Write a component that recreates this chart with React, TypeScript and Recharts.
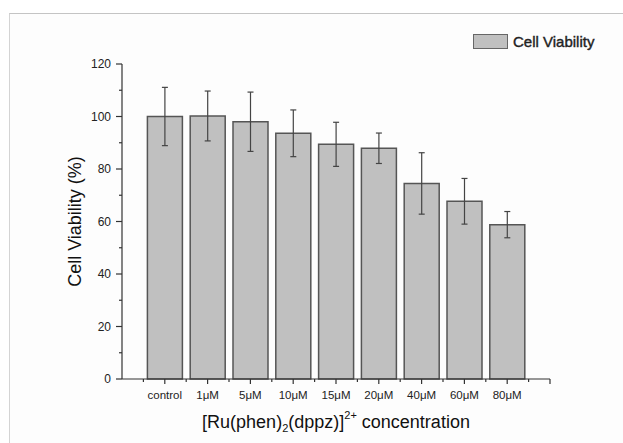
import React from 'react';
import { BarChart, Bar, XAxis, YAxis, ErrorBar, Legend } from 'recharts';

// values
const concentrations = ['control', '1μM', '5μM', '10μM', '15μM', '20μM', '40μM', '60μM', '80μM'];
const viability = [100, 100.2, 98, 93.6, 89.4, 87.9, 74.5, 67.7, 58.8];
const viabilitySd = [11.1, 9.5, 11.3, 8.9, 8.4, 5.8, 11.7, 8.7, 5];
const yTicks = [0, 10, 20, 30, 40, 50, 60, 70, 80, 90, 100, 110, 120];

const data = concentrations.map((c, i) => ({ name: c, viability: viability[i], sd: viabilitySd[i] }));

const W = 623;
const H = 443;
const PLOT_LEFT = 122;
const PLOT_RIGHT = 550;
const PLOT_TOP = 64;
const PLOT_BOTTOM = 379;
const BAND = (PLOT_RIGHT - PLOT_LEFT) / (concentrations.length + 1);
const FONT = '"Liberation Sans", Arial, sans-serif';
const AXIS = '#333';

const XTick = (props: any) => {
    const { x, y, payload, index } = props;
    const last = index === concentrations.length - 1;
    return (
        <g>
            <line x1={x} y1={y} x2={x} y2={y + 5} stroke={AXIS} strokeWidth={1.2} />
            <line x1={x - BAND / 2} y1={y} x2={x - BAND / 2} y2={y + 3} stroke={AXIS} strokeWidth={1.2} />
            {last && (
                <>
                    <line x1={x + BAND / 2} y1={y} x2={x + BAND / 2} y2={y + 3} stroke={AXIS} strokeWidth={1.2} />
                    <line x1={x + BAND} y1={y} x2={x + BAND} y2={y + 5} stroke={AXIS} strokeWidth={1.2} />
                </>
            )}
            <text x={x} y={y + 20} textAnchor="middle" fontSize={11.5} fill="#222" fontFamily={FONT}>
                {payload.value}
            </text>
        </g>
    );
};

const YTick = (props: any) => {
    const { x, y, payload } = props;
    const major = payload.value % 20 === 0;
    return (
        <g>
            <line x1={x - (major ? 6 : 3)} y1={y} x2={x} y2={y} stroke={AXIS} strokeWidth={1.2} />
            {major && (
                <text x={x - 11} y={y + 4} textAnchor="end" fontSize={12} fill="#222" fontFamily={FONT}>
                    {payload.value}
                </text>
            )}
        </g>
    );
};

const XLabel = (props: any) => {
    const { viewBox } = props;
    const cx = viewBox.x + viewBox.width / 2;
    const ty = viewBox.y + 49;
    return (
        <text x={cx} y={ty} textAnchor="middle" fontSize={18} fill="#111" fontFamily={FONT}>
            [Ru(phen)
            <tspan fontSize={11} dy={4}>2</tspan>
            <tspan dy={-4}>(dppz)]</tspan>
            <tspan fontSize={11} dy={-9}>2+</tspan>
            <tspan dy={9}> concentration</tspan>
        </text>
    );
};

const YLabel = (props: any) => {
    const { viewBox } = props;
    const x = 81;
    const y = viewBox.y + viewBox.height / 2;
    return (
        <text x={x} y={y} transform={`rotate(-90, ${x}, ${y})`} textAnchor="middle" fontSize={18} fill="#111" fontFamily={FONT}>
            Cell Viability (%)
        </text>
    );
};

const LegendBox = () => (
    <div style={{ display: 'flex', alignItems: 'center', fontFamily: FONT }}>
        <div style={{ width: 33, height: 13, background: '#c0c0c0', border: '1px solid #666' }} />
        <span style={{ marginLeft: 5, fontSize: 15, color: '#222', WebkitTextStroke: '0.4px #222' }}>Cell Viability</span>
    </div>
);

export default function App() {
    return (
        <div style={{ position: 'absolute', left: 0, top: 0, width: W, height: H, background: '#fff' }}>
            <div style={{ position: 'absolute', left: 9, top: 13, right: 0, bottom: 0, borderTop: '1px solid #c4c4c4', borderLeft: '1px solid #d4d4d4', background: '#fdfdfd' }} />
            <div style={{ position: 'absolute', left: 0, top: 0 }}>
                <BarChart
                    width={W}
                    height={H}
                    data={data}
                    margin={{ top: PLOT_TOP, right: W - PLOT_RIGHT, bottom: 10, left: 62 }}
                    barCategoryGap={BAND - 35}
                >
                    <XAxis
                        dataKey="name"
                        height={H - PLOT_BOTTOM - 10}
                        padding={{ left: BAND / 2, right: BAND / 2 }}
                        tickSize={0}
                        tickMargin={0}
                        tickLine={false}
                        interval={0}
                        tick={<XTick />}
                        axisLine={{ stroke: AXIS, strokeWidth: 1.2 }}
                        label={<XLabel />}
                    />
                    <YAxis
                        type="number"
                        domain={[0, 120]}
                        ticks={yTicks}
                        width={PLOT_LEFT - 62}
                        tickSize={0}
                        tickMargin={0}
                        tickLine={false}
                        interval={0}
                        tick={<YTick />}
                        axisLine={{ stroke: AXIS, strokeWidth: 1.2 }}
                        label={<YLabel />}
                    />
                    <Legend
                        layout="horizontal"
                        verticalAlign="middle"
                        align="center"
                        content={<LegendBox />}
                        wrapperStyle={{ top: 33, left: 473, width: 140, height: 16 }}
                    />
                    <Bar
                        dataKey="viability"
                        name="Cell Viability"
                        fill="#c0c0c0"
                        stroke="#555"
                        strokeWidth={1.5}
                        barSize={35}
                        isAnimationActive={false}
                    >
                        <ErrorBar dataKey="sd" direction="y" width={3} stroke="#444" strokeWidth={1.2} />
                    </Bar>
                </BarChart>
            </div>
        </div>
    );
}
